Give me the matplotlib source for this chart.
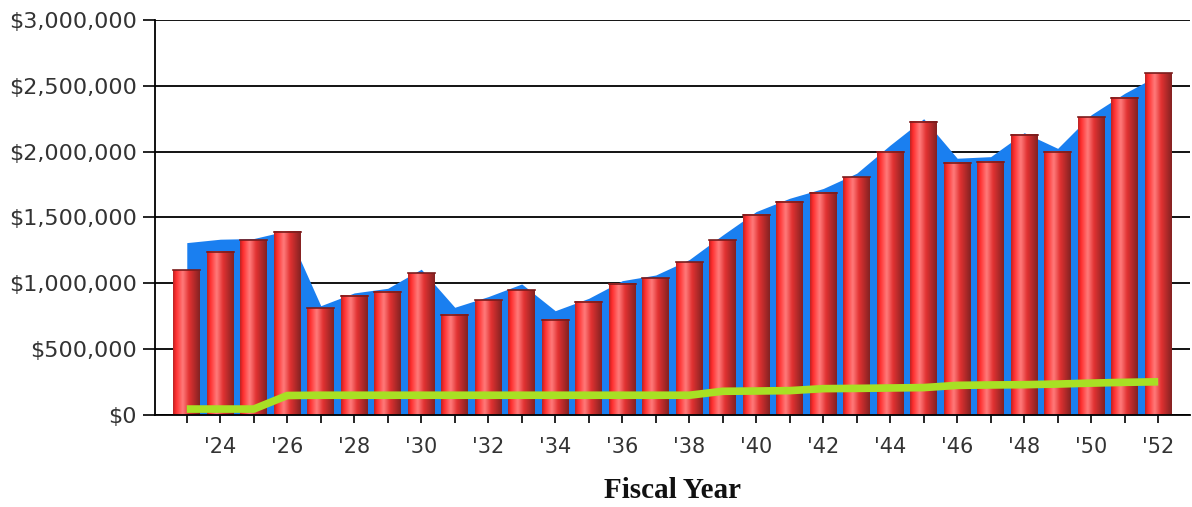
import matplotlib.pyplot as plt
import numpy as np
from matplotlib.colors import LinearSegmentedColormap
from matplotlib.ticker import FuncFormatter

years = list(range(2023, 2053))
bar_values = [1100000, 1238000, 1329000, 1392000, 810000, 904000, 937000, 1076000,
              760000, 873000, 949000, 722000, 861000, 995000, 1038000, 1160000,
              1329000, 1519000, 1620000, 1688000, 1805000, 2000000, 2228000, 1916000,
              1924000, 2127000, 2000000, 2261000, 2410000, 2595000]
area_values = [1309000, 1335000, 1340000, 1400000, 830000, 927000, 962000, 1107000,
               818000, 899000, 995000, 792000, 886000, 1020000, 1063000, 1180000,
               1367000, 1545000, 1646000, 1720000, 1836000, 2050000, 2250000, 1950000,
               1962000, 2144000, 2025000, 2280000, 2443000, 2580000]
line_values = [45000, 45000, 45000, 148000, 150000, 150000, 150000, 150000,
               150000, 150000, 150000, 150000, 150000, 150000, 150000, 150000,
               180000, 182000, 185000, 200000, 202000, 205000, 208000, 225000,
               228000, 230000, 235000, 242000, 248000, 252000]
tick_labels = ["'%02d" % (y % 100) if y % 2 == 0 else "" for y in years]

plt.rcParams['font.family'] = ['DejaVu Sans']

fig = plt.figure(figsize=(11.92, 5.07), dpi=100)
ax = fig.add_axes([0.130, 0.1815, 0.8683, 0.7791])

x = np.arange(len(years))

# horizontal grid behind everything
ax.set_axisbelow(True)
ax.yaxis.grid(True, color='black', linewidth=1.3)

ax.fill_between(x, area_values, 0, color='#1a7ff0', zorder=1, linewidth=0)

bars = ax.bar(x, bar_values, width=0.8, color='#e83030', zorder=2)

# cylinder shading on each bar
cyl = LinearSegmentedColormap.from_list('cyl', [
    (0.0, '#b82424'), (0.1, '#ff2b2b'), (0.36, '#ff7b7b'),
    (0.6, '#e23232'), (1.0, '#842222')])
grad = np.linspace(0, 1, 64).reshape(1, -1)
for b in bars:
    x0, w, h = b.get_x(), b.get_width(), b.get_height()
    ax.imshow(grad, extent=(x0, x0 + w, 0, h), aspect='auto', cmap=cyl,
              zorder=2.5, interpolation='bicubic')
    ax.plot([x0, x0 + w], [h, h], color='#7a1c1c', linewidth=1.2, zorder=2.6)

ax.plot(x, line_values, color='#a8e024', linewidth=5.5, zorder=3,
        solid_capstyle='butt')

ax.set_xlim(-0.95, len(years) - 0.05)
ax.set_ylim(0, 3000000)
ax.set_xticks(x)
ax.set_xticklabels(tick_labels)
ax.set_yticks(np.arange(0, 3000001, 500000))
ax.yaxis.set_major_formatter(FuncFormatter(lambda v, p: '${:,.0f}'.format(v)))

for s in ['top', 'right']:
    ax.spines[s].set_visible(False)
for s in ['left', 'bottom']:
    ax.spines[s].set_linewidth(1.3)
    ax.spines[s].set_color('black')

ax.tick_params(axis='y', length=9, width=1.2, pad=4, labelsize=16,
               labelcolor='#333333')
ax.tick_params(axis='x', length=6, width=1.2, direction='out', pad=10,
               labelsize=15, labelcolor='#333333')

ax.set_xlabel('Fiscal Year', family=['Liberation Serif', 'DejaVu Serif'],
              fontweight='bold', fontsize=21, labelpad=14, color='#111111')

fig.savefig('out.png', dpi=100)
